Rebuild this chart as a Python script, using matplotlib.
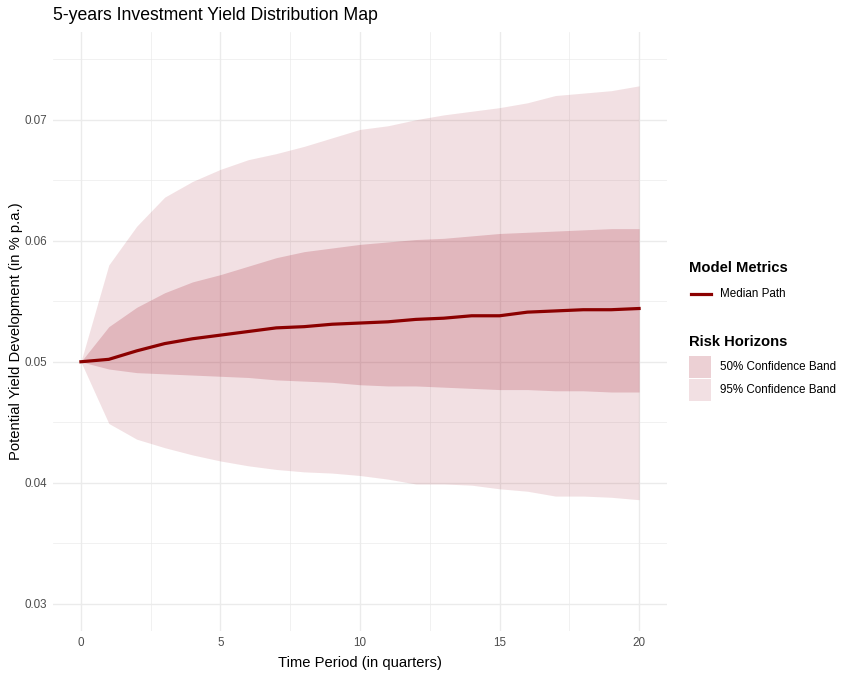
import numpy as np
import matplotlib.pyplot as plt
from matplotlib.lines import Line2D
from matplotlib.patches import Rectangle
from matplotlib.ticker import MultipleLocator

plt.rcParams['font.family'] = ['Liberation Sans', 'DejaVu Sans']

# quarters and yield quantiles
quarters = np.arange(0, 21)
median = [0.0500, 0.0502, 0.0509, 0.0515, 0.0519, 0.0522, 0.0525, 0.0528, 0.0529, 0.0531, 0.0532,
          0.0533, 0.0535, 0.0536, 0.0538, 0.0538, 0.0541, 0.0542, 0.0543, 0.0543, 0.0544]
q25 = [0.0500, 0.0494, 0.0491, 0.0490, 0.0489, 0.0488, 0.0487, 0.0485, 0.0484, 0.0483, 0.0481,
       0.0480, 0.0480, 0.0479, 0.0478, 0.0477, 0.0477, 0.0476, 0.0476, 0.0475, 0.0475]
q75 = [0.0500, 0.0529, 0.0545, 0.0557, 0.0566, 0.0572, 0.0579, 0.0586, 0.0591, 0.0594, 0.0597,
       0.0599, 0.0601, 0.0602, 0.0604, 0.0606, 0.0607, 0.0608, 0.0609, 0.0610, 0.0610]
q025 = [0.0500, 0.0449, 0.0436, 0.0429, 0.0423, 0.0418, 0.0414, 0.0411, 0.0409, 0.0408, 0.0406,
        0.0403, 0.0399, 0.0399, 0.0398, 0.0395, 0.0393, 0.0389, 0.0389, 0.0388, 0.0386]
q975 = [0.0500, 0.0580, 0.0612, 0.0636, 0.0649, 0.0659, 0.0667, 0.0672, 0.0678, 0.0685, 0.0692,
        0.0695, 0.0700, 0.0704, 0.0707, 0.0710, 0.0714, 0.0720, 0.0722, 0.0724, 0.0728]

band_col = "#a01428"
line_col = "#8b0000"
grid_col = "#ebebeb"
txt_col = "#4d4d4d"

W, H = 851, 673
fig = plt.figure(figsize=(W / 100, H / 100), dpi=100)
ax = fig.add_axes([53/W, 1 - 631/H, (667-53)/W, (631-32)/H])

ax.fill_between(quarters, q025, q975, color=band_col, alpha=0.13, linewidth=0, zorder=2)
ax.fill_between(quarters, q25, q75, color=band_col, alpha=0.2, linewidth=0, zorder=3)
ax.plot(quarters, median, color=line_col, linewidth=2.3, zorder=4)

ax.set_xlim(-1, 21)
ax.set_ylim(0.02775, 0.07725)
ax.xaxis.set_major_locator(MultipleLocator(5))
ax.xaxis.set_minor_locator(MultipleLocator(2.5))
ax.set_yticks([0.03, 0.04, 0.05, 0.06, 0.07])
ax.set_yticks([0.035, 0.045, 0.055, 0.065, 0.075], minor=True)
ax.set_yticklabels(["0.03", "0.04", "0.05", "0.06", "0.07"])

ax.grid(which='major', color=grid_col, linewidth=1.0, zorder=0)
ax.grid(which='minor', color=grid_col, linewidth=0.5, zorder=0)
ax.set_axisbelow(True)
for s in ax.spines.values():
    s.set_visible(False)
ax.tick_params(which='both', length=0, labelsize=8.4, labelcolor=txt_col, pad=4)

ax.set_xlabel("Time Period (in quarters)", fontsize=10.6, labelpad=5)
ax.set_ylabel("Potential Yield Development (in % p.a.)", fontsize=10.6, labelpad=1)
fig.text(53/W, 1 - 15/H, "5-years Investment Yield Distribution Map", fontsize=12.7,
         ha='left', va='center')

# legends, drawn by hand in pixel positions
def fx(px):
    return px / W

def fy(py):
    return 1 - py / H

fig.text(fx(689), fy(268), "Model Metrics", fontsize=10.6, weight='bold', va='center')
fig.add_artist(Line2D([fx(691), fx(711)], [fy(294), fy(294)], color=line_col, linewidth=2.3))
fig.text(fx(720), fy(294), "Median Path", fontsize=8.4, va='center')

fig.text(fx(689), fy(342), "Risk Horizons", fontsize=10.6, weight='bold', va='center')
band_labels = ["50% Confidence Band", "95% Confidence Band"]
band_alpha = [0.2, 0.13]
for i, (lab, a) in enumerate(zip(band_labels, band_alpha)):
    top = 356 + i * 23
    fig.add_artist(Rectangle((fx(689), fy(top + 22)), 22/W, 22/H, facecolor=band_col,
                             alpha=a, linewidth=0, transform=fig.transFigure))
    fig.text(fx(720), fy(top + 11), lab, fontsize=8.4, va='center')

fig.savefig("out.png", dpi=100)
